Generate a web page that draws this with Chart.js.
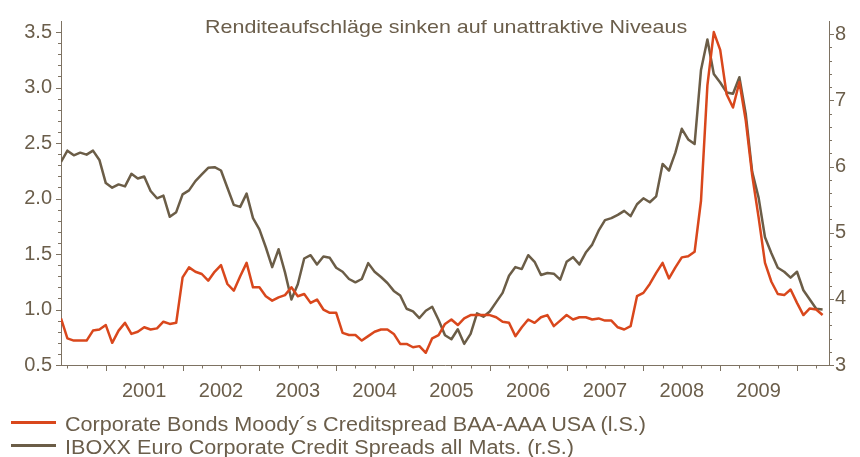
<!DOCTYPE html>
<html lang="de">
<head>
<meta charset="utf-8">
<title>Renditeaufschläge</title>
<script src="https://cdn.jsdelivr.net/npm/chart.js@4.4.0/dist/chart.umd.min.js"></script>
<style>
  html, body { margin: 0; padding: 0; background: #fff; }
  #wrap { position: relative; width: 860px; height: 457px; overflow: hidden;
          font-family: "Liberation Sans", Arial, sans-serif; color: #6b5e4b; }
  #chart { position: absolute; left: 0; top: 0; }
  .subtitle { position: absolute; left: 205px; top: 16.5px; font-size: 19px; line-height: 19px;
              white-space: nowrap; transform: scaleX(1.13); transform-origin: left top; }
  .legend-row { position: absolute; left: 0; width: 860px; height: 20px; font-size: 20px; line-height: 20px; white-space: nowrap; }
  .legend-row .swatch { position: absolute; left: 11px; top: 7px; width: 45px; height: 3px; }
  .legend-row .text { position: absolute; left: 65px; top: 0; transform: scaleX(1.08); transform-origin: left top; }
</style>
</head>
<body>
<div id="wrap">
  <canvas id="chart" width="860" height="457"></canvas>
  <div class="subtitle">Renditeaufschläge sinken auf unattraktive Niveaus</div>
  <div class="legend-row" style="top: 414.4px;">
    <span class="swatch" style="background: #d9471c;"></span>
    <span class="text">Corporate Bonds Moody´s Creditspread BAA-AAA USA (l.S.)</span>
  </div>
  <div class="legend-row" style="top: 437.4px;">
    <span class="swatch" style="background: #6b5d47;"></span>
    <span class="text">IBOXX Euro Corporate Credit Spreads all Mats. (r.S.)</span>
  </div>
</div>
<script>
// Monthly values, first one is Jun 2000 (months counted from Jan 2000)
const firstMonth = 5;
const yearLabels = ['2001', '2002', '2003', '2004', '2005', '2006', '2007', '2008', '2009'];

// Moody's BAA-AAA spread, left axis
const moodysSpread = [
  0.92, 0.74, 0.72, 0.72, 0.72, 0.81, 0.82, 0.86, 0.70, 0.81,
  0.88, 0.78, 0.80, 0.84, 0.82, 0.83, 0.89, 0.87, 0.88, 1.29,
  1.38, 1.34, 1.32, 1.26, 1.34, 1.40, 1.23, 1.17, 1.30, 1.42,
  1.20, 1.20, 1.12, 1.08, 1.11, 1.13, 1.20, 1.12, 1.14, 1.06,
  1.09, 1.00, 0.97, 0.97, 0.79, 0.77, 0.77, 0.72, 0.76, 0.80,
  0.82, 0.82, 0.78, 0.69, 0.69, 0.66, 0.67, 0.61, 0.74, 0.77,
  0.87, 0.91, 0.86, 0.92, 0.95, 0.95, 0.95, 0.95, 0.93, 0.89,
  0.88, 0.76, 0.84, 0.91, 0.88, 0.93, 0.95, 0.85, 0.90, 0.95,
  0.91, 0.93, 0.93, 0.91, 0.92, 0.90, 0.90, 0.84, 0.82, 0.85,
  1.12, 1.15, 1.23, 1.33, 1.42, 1.28, 1.38, 1.47, 1.48, 1.52,
  1.98, 3.02, 3.50, 3.34, 2.94, 2.82, 3.05, 2.70, 2.21, 1.83,
  1.42, 1.25, 1.14, 1.13, 1.18, 1.06, 0.95, 1.01, 1.00, 0.95
];

// iBoxx Euro corporate spread, right axis
const iboxxSpread = [
  6.07, 6.24, 6.17, 6.21, 6.18, 6.24, 6.10, 5.75, 5.68, 5.73,
  5.70, 5.89, 5.82, 5.85, 5.63, 5.52, 5.56, 5.24, 5.31, 5.58,
  5.64, 5.78, 5.88, 5.98, 5.99, 5.94, 5.68, 5.42, 5.39, 5.59,
  5.22, 5.05, 4.78, 4.48, 4.75, 4.40, 3.99, 4.22, 4.61, 4.66,
  4.52, 4.64, 4.62, 4.47, 4.41, 4.30, 4.25, 4.30, 4.54, 4.41,
  4.33, 4.24, 4.12, 4.05, 3.85, 3.81, 3.71, 3.82, 3.88, 3.68,
  3.45, 3.39, 3.54, 3.32, 3.47, 3.78, 3.73, 3.81, 3.95, 4.09,
  4.35, 4.48, 4.45, 4.66, 4.56, 4.36, 4.39, 4.38, 4.29, 4.56,
  4.63, 4.52, 4.70, 4.82, 5.03, 5.19, 5.22, 5.27, 5.33, 5.25,
  5.43, 5.52, 5.46, 5.55, 6.04, 5.94, 6.21, 6.57, 6.41, 6.34,
  7.46, 7.92, 7.40, 7.27, 7.12, 7.10, 7.35, 6.79, 5.92, 5.53,
  4.93, 4.69, 4.47, 4.41, 4.32, 4.41, 4.13, 3.99, 3.85, 3.84
];

const textColor = '#6b5e4b';
const axisColor = '#7d7262';
const tickFont = { family: '"Liberation Sans", Arial, sans-serif', size: 20 };

const toPoints = values => values.map((v, i) => ({ x: firstMonth + i, y: v }));

// quarter / year ticks on x, minor ticks on both y axes
const axisTicks = {
    id: 'axisTicks',
    afterDraw(chart) {
        const { ctx, chartArea, scales } = chart;
        ctx.save();
        ctx.strokeStyle = axisColor;
        ctx.lineWidth = 1;
        ctx.beginPath();
        // left axis: every 0.1, long every 0.5
        for (let t = 5; t <= 35; t++) {
            const y = Math.round(scales.y.getPixelForValue(t / 10)) + 0.5;
            const len = t % 5 === 0 ? 5 : 3;
            ctx.moveTo(chartArea.left - len, y);
            ctx.lineTo(chartArea.left, y);
        }
        // right axis: every 0.2, long every 1
        for (let t = 15; t <= 40; t++) {
            const y = Math.round(scales.y1.getPixelForValue(t / 5)) + 0.5;
            const len = t % 5 === 0 ? 5 : 3;
            ctx.moveTo(chartArea.right, y);
            ctx.lineTo(chartArea.right + len, y);
        }
        // x axis: quarters, long at each January
        for (let m = 6; m < 125; m += 3) {
            const x = Math.round(scales.x.getPixelForValue(m)) + 0.5;
            const len = m % 12 === 0 ? 6 : 3.5;
            ctx.moveTo(x, chartArea.bottom);
            ctx.lineTo(x, chartArea.bottom + len);
        }
        ctx.stroke();
        ctx.restore();
    }
};

new Chart(document.getElementById('chart'), {
    type: 'line',
    data: {
        datasets: [{
            label: 'Corporate Bonds Moody´s Creditspread BAA-AAA USA (l.S.)',
            data: toPoints(moodysSpread),
            borderColor: '#d9471c',
            borderWidth: 2.5,
            yAxisID: 'y'
        }, {
            label: 'IBOXX Euro Corporate Credit Spreads all Mats. (r.S.)',
            data: toPoints(iboxxSpread),
            borderColor: '#6b5d47',
            borderWidth: 2.5,
            yAxisID: 'y1'
        }]
    },
    options: {
        responsive: false,
        animation: false,
        devicePixelRatio: 1,
        layout: { padding: { top: 5 } },
        elements: {
            point: { radius: 0 },
            line: { tension: 0, borderJoinStyle: 'round' }
        },
        plugins: {
            legend: { display: false },
            tooltip: { enabled: false }
        },
        scales: {
            x: {
                type: 'linear',
                position: 'bottom',
                min: 5,
                max: 125,
                grid: { drawOnChartArea: false, drawTicks: false },
                border: { color: axisColor, width: 1 },
                afterBuildTicks: scale => {
                    scale.ticks = yearLabels.map((label, i) => ({ value: 18 + 12 * i }));
                },
                afterFit: scale => { scale.height = 92; },
                ticks: {
                    autoSkip: false,
                    maxRotation: 0,
                    padding: 14,
                    color: textColor,
                    font: tickFont,
                    callback: (value, index) => yearLabels[index]
                }
            },
            y: {
                position: 'left',
                min: 0.5,
                max: 3.6,
                grid: { drawOnChartArea: false, drawTicks: false },
                border: { color: axisColor, width: 1 },
                afterFit: scale => { scale.width = 61; },
                ticks: {
                    stepSize: 0.5,
                    includeBounds: false,
                    padding: 9,
                    color: textColor,
                    font: tickFont,
                    callback: value => value.toFixed(1)
                }
            },
            y1: {
                position: 'right',
                min: 3,
                max: 8.2,
                grid: { drawOnChartArea: false, drawTicks: false },
                border: { color: axisColor, width: 1 },
                afterFit: scale => { scale.width = 31; },
                ticks: {
                    stepSize: 1,
                    includeBounds: false,
                    padding: 6,
                    color: textColor,
                    font: tickFont
                }
            }
        }
    },
    plugins: [axisTicks]
});
</script>
</body>
</html>
